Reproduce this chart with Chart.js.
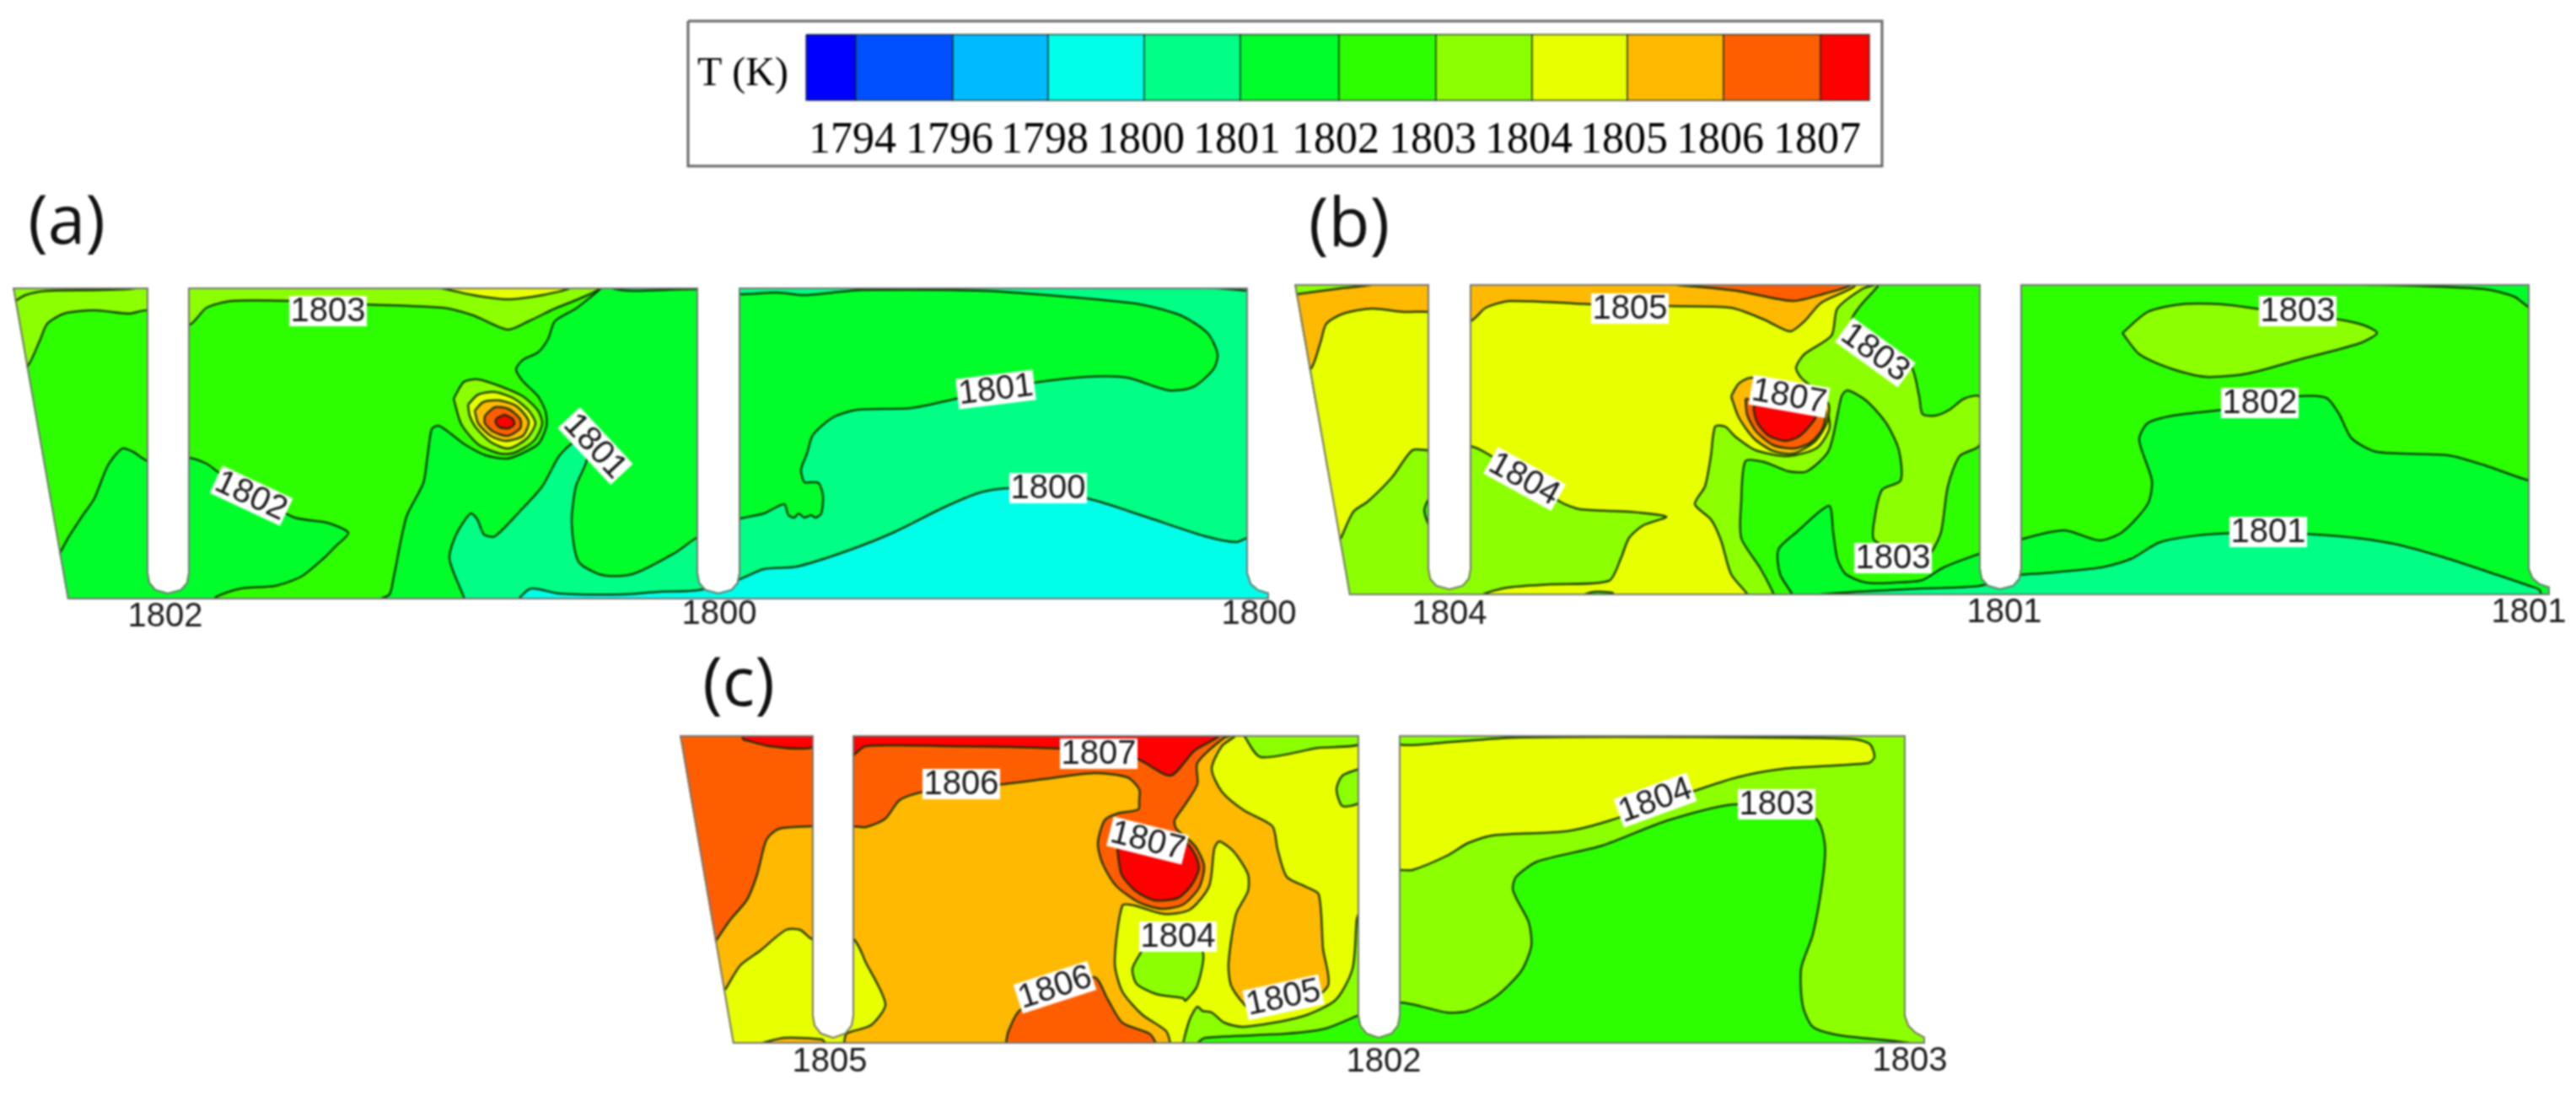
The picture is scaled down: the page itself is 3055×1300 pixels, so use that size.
<!DOCTYPE html>
<html lang="en">
<head>
  <meta charset="UTF-8" />
  <title>T (K) contours</title>
  <script src="https://cdn.jsdelivr.net/npm/chart.js"></script>
  <style>
    html, body { margin: 0; padding: 0; background: white; overflow: hidden; }
    canvas { display: block; filter: blur(0.8px); }
  </style>
</head>
<body>
  <canvas id="contourChart" width="3055" height="1300"></canvas>

  <script>
    // colour bands, index = band number of the legend
    const bandColors = ['#0000ff', '#0050ff', '#00baff', '#00ffe8', '#00ff85', '#00ff2a',
                        '#2eff00', '#8cff00', '#e8ff00', '#ffb900', '#ff5e00', '#ff0000'];
    const colorbarTicks = ['1794', '1796', '1798', '1800', '1801', '1802', '1803', '1804', '1805', '1806', '1807'];
    const colorbarEdges = [956, 1015, 1130, 1243, 1357, 1471, 1588, 1703, 1817, 1930, 2044, 2159, 2217];
    const colorbarTop = 41, colorbarBottom = 119;
    const legendBox = [[816, 25], [2232, 25], [2232, 197], [816, 197], [816, 25]];

    // ---- panel (a) ----
    const aOutline = [[15,341],[176,341],[176,680],[178,691],[185,699],[199,703],[214,699],[221,691],[223,680],[223,341],[828,341],[828,680],[830,691],[837,699],[852,703],[867,699],[874,691],[876,680],[876,341],[1480,341],[1480,680],[1484,692],[1492,699],[1505,703],[1505,711],[80,711],[15,341]];
    const aBase = [[5,330],[1515,330],[1515,720],[5,720],[5,330]];
    const aTopLeft = [[20,440],[33,434],[48,402],[56,384],[76,372],[112,368],[153,372],[176,368],[223,386],[245,365],[275,357],[347,357],[433,361],[525,365],[561,374],[602,391],[627,381],[658,366],[683,356],[714,341],[714,330],[10,330],[10,440],[20,440]];
    const aTopStrip = [[17,358],[30,350],[56,345],[160,342],[160,330],[10,330],[10,358],[17,358]];
    const aTopYellow = [[520,341],[561,350],[602,355],[643,350],[678,341],[678,330],[520,330],[520,341]];
    const aRight = [[714,341],[701,352],[683,366],[658,381],[650,402],[638,418],[620,427],[612,438],[620,452],[638,470],[647,488],[648,506],[638,527],[612,541],[599,544],[576,540],[551,527],[530,511],[520,505],[512,509],[507,541],[502,573],[482,613],[467,684],[462,705],[451,711],[451,720],[1510,720],[1510,330],[714,330],[714,341]];
    const aLowerLeft = [[71,656],[82,636],[97,613],[112,591],[128,552],[145,532],[158,536],[176,547],[223,543],[245,550],[260,561],[347,613],[388,620],[413,632],[398,648],[383,663],[357,684],[326,695],[286,698],[255,709],[255,720],[60,720],[60,656],[71,656]];
    const aBand1801 = [[551,720],[551,711],[533,663],[541,634],[558,609],[566,616],[574,634],[587,636],[617,606],[643,577],[663,541],[680,525],[690,528],[696,545],[683,577],[678,620],[686,666],[714,682],[750,681],[800,656],[826,638],[875,616],[906,609],[930,598],[935,611],[942,614],[947,609],[954,614],[962,611],[967,614],[974,609],[976,588],[971,573],[962,572],[954,572],[950,557],[957,538],[964,516],[988,495],[1017,486],[1081,484],[1134,473],[1182,463],[1226,454],[1289,447],[1337,448],[1386,463],[1415,459],[1439,438],[1444,420],[1432,395],[1400,374],[1352,361],[1265,352],[1168,345],[1022,344],[988,347],[954,350],[921,347],[875,349],[828,343],[750,345],[724,341],[724,330],[1510,330],[1510,720],[551,720]];
    const aBand1800 = [[615,720],[615,711],[630,698],[663,704],[740,705],[780,702],[828,700],[875,688],[906,675],[945,672],[1003,654],[1061,631],[1119,602],[1163,584],[1202,579],[1289,591],[1362,614],[1429,636],[1466,643],[1480,638],[1510,640],[1510,720],[615,720]];
    const aTopRight = [[1410,341],[1445,342],[1480,345],[1490,345],[1490,330],[1410,330],[1410,341]];
    const aHot7 = [[538,473],[550,453],[567,450],[593,458],[620,470],[638,487],[643,503],[633,523],[610,537],[593,538],[567,527],[547,503],[538,473]];
    const aHot8 = [[555,480],[567,468],[587,465],[610,473],[627,487],[635,502],[625,520],[603,532],[583,525],[565,508],[557,493],[555,480]];
    const aHot9 = [[563,487],[573,477],[593,475],[613,482],[627,500],[620,517],[600,523],[582,517],[567,502],[563,487]];
    const aHot10 = [[575,493],[587,483],[603,485],[617,497],[617,508],[602,517],[585,512],[575,502],[575,493]];
    const aHot11 = [[588,497],[598,492],[608,497],[610,503],[603,508],[593,507],[588,502],[588,497]];
    const aRegions = [[6,aBase],[7,aTopLeft],[7,aTopStrip],[8,aTopYellow],[5,aRight],[5,aLowerLeft],[4,aBand1801],[3,aBand1800],[3,aTopRight],[7,aHot7],[8,aHot8],[9,aHot9],[10,aHot10],[11,aHot11]];

    // ---- panel (b) ----
    const bOutline = [[1535,337],[1695,337],[1695,675],[1697,686],[1704,694],[1719,698],[1734,694],[1741,686],[1743,675],[1743,337],[2349,337],[2349,675],[2351,686],[2358,694],[2372,698],[2387,694],[2394,686],[2396,675],[2396,337],[3000,337],[3000,675],[3004,685],[3012,692],[3024,696],[3024,706],[1600,706],[1535,337]];
    const bBase = [[1525,328],[3035,328],[3035,716],[1525,716],[1525,328]];
    const bTopLeft = [[1530,440],[1554,438],[1566,406],[1573,384],[1593,372],[1627,366],[1665,370],[1694,370],[1743,381],[1762,365],[1791,357],[1888,361],[1980,363],[2053,365],[2092,379],[2123,393],[2140,381],[2160,359],[2199,340],[2199,330],[1530,330],[1530,440]];
    const bCorner = [[1530,350],[1590,342],[1630,337],[1630,330],[1530,330],[1530,350]];
    const bTop1806 = [[1988,338],[2060,345],[2126,357],[2165,348],[2196,338],[2196,330],[1988,330],[1988,338]];
    const bLowerLeft = [[1590,639],[1605,607],[1622,595],[1651,566],[1675,534],[1694,534],[1743,529],[1767,540],[1850,595],[1874,604],[1932,607],[1976,613],[1949,623],[1932,638],[1922,663],[1908,689],[1840,693],[1787,697],[1757,706],[1757,715],[1580,715],[1580,640],[1590,639]];
    const bSlotSpot = [[1696,588],[1689,605],[1696,625],[1700,605],[1696,588]];
    const bBottomSpot = [[1874,707],[1890,702],[1912,703],[1914,707],[1874,707]];
    const bBand1804 = [[2223,338],[2208,343],[2179,366],[2172,398],[2140,420],[2130,436],[2136,448],[2160,470],[2170,506],[2155,531],[2121,541],[2082,534],[2058,518],[2046,506],[2034,506],[2029,541],[2022,577],[2010,598],[2029,616],[2041,641],[2053,681],[2073,706],[2073,715],[3030,715],[3030,330],[2223,330],[2223,338]];
    const bBand1803 = [[2228,330],[2228,338],[2206,363],[2196,381],[2225,410],[2266,434],[2276,470],[2280,491],[2295,493],[2312,486],[2329,473],[2347,470],[2352,500],[2347,529],[2324,541],[2310,577],[2302,631],[2290,656],[2280,663],[2223,641],[2223,616],[2232,581],[2254,570],[2252,534],[2237,502],[2213,475],[2191,463],[2184,470],[2169,534],[2143,559],[2121,559],[2092,548],[2070,547],[2065,595],[2065,638],[2087,673],[2104,706],[2104,715],[3030,715],[3030,330],[2228,330]];
    const bBand1802 = [[2126,715],[2126,706],[2111,681],[2109,652],[2131,631],[2169,600],[2174,631],[2179,663],[2189,681],[2213,691],[2247,691],[2280,688],[2305,673],[2347,657],[2396,640],[2448,629],[2490,641],[2517,631],[2547,598],[2552,570],[2537,522],[2547,502],[2577,493],[2636,486],[2725,470],[2759,472],[2774,491],[2789,520],[2819,536],[2903,540],[2947,552],[2999,570],[3030,575],[3030,715],[2126,715]];
    const bIsland = [[2517,395],[2547,370],[2586,361],[2636,361],[2675,366],[2774,379],[2804,386],[2819,395],[2799,407],[2725,427],[2666,443],[2616,447],[2577,438],[2537,420],[2517,395]];
    const bTopRight = [[2678,337],[2824,338],[2947,343],[2982,352],[3000,365],[3010,365],[3010,330],[2678,330],[2678,337]];
    const bBand1801 = [[2148,706],[2199,702],[2280,698],[2347,695],[2396,682],[2423,680],[2492,673],[2527,663],[2562,643],[2616,634],[2690,632],[2774,636],[2839,645],[2898,661],[2962,682],[3000,695],[3012,700],[3012,712],[2148,712],[2148,706]];
    const bHot9 = [[2053,470],[2062,455],[2078,448],[2167,477],[2167,500],[2153,523],[2127,538],[2103,535],[2080,520],[2062,495],[2053,470]];
    const bHot10 = [[2070,473],[2163,483],[2162,507],[2147,525],[2127,532],[2103,528],[2083,512],[2072,492],[2070,473]];
    const bHot11 = [[2080,480],[2153,493],[2148,503],[2133,518],[2117,523],[2098,517],[2085,503],[2080,488],[2080,480]];
    const bRegions = [[8,bBase],[9,bTopLeft],[7,bCorner],[10,bTop1806],[7,bLowerLeft],[6,bSlotSpot],[6,bBottomSpot],[7,bBand1804],[6,bBand1803],[5,bBand1802],[7,bIsland],[5,bTopRight],[4,bBand1801],[9,bHot9],[10,bHot10],[11,bHot11]];

    // ---- panel (c) ----
    const cOutline = [[806,872],[965,872],[965,1205],[967,1216],[974,1225],[988,1230],[1002,1225],[1009,1216],[1011,1205],[1011,872],[1612,872],[1612,1205],[1614,1216],[1621,1225],[1635,1230],[1650,1225],[1657,1216],[1659,1205],[1659,872],[2260,872],[2260,1205],[2264,1216],[2272,1224],[2283,1230],[2283,1238],[869,1238],[806,872]];
    const cBase = [[796,862],[2295,862],[2295,1248],[796,1248],[796,862]];
    const cBand1806 = [[849,1116],[866,1091],[886,1067],[898,1037],[909,996],[924,983],[964,980],[1011,980],[1027,981],[1050,971],[1067,949],[1096,939],[1182,931],[1239,924],[1297,917],[1337,922],[1351,936],[1351,950],[1350,960],[1325,965],[1310,973],[1302,1000],[1307,1023],[1323,1050],[1350,1070],[1377,1078],[1403,1073],[1422,1053],[1428,1027],[1417,1003],[1395,983],[1393,973],[1405,955],[1420,930],[1420,905],[1452,875],[1463,872],[1463,865],[800,865],[800,1116],[849,1116]];
    const cTop1807Left = [[881,877],[912,885],[952,888],[965,885],[965,865],[881,865],[881,877]];
    const cTop1807 = [[1011,897],[1027,885],[1124,885],[1256,888],[1348,900],[1388,920],[1417,890],[1446,873],[1446,865],[1011,865],[1011,897]];
    const cLowerLeft = [[860,1174],[878,1145],[901,1128],[932,1103],[949,1103],[965,1115],[1011,1113],[1027,1142],[1050,1191],[1033,1216],[1004,1226],[1001,1238],[1001,1245],[850,1245],[850,1174],[860,1174]];
    const cBottomOrange = [[901,1238],[930,1231],[975,1233],[978,1238],[901,1238]];
    const cBottom1806 = [[1193,1245],[1193,1238],[1196,1223],[1210,1198],[1297,1159],[1314,1186],[1331,1213],[1363,1226],[1371,1238],[1371,1245],[1193,1245]];
    const cBand1805 = [[1388,1245],[1388,1238],[1383,1223],[1354,1203],[1331,1176],[1322,1142],[1331,1074],[1345,1074],[1380,1084],[1411,1079],[1434,1051],[1440,1007],[1446,998],[1463,1010],[1480,1037],[1480,1057],[1466,1084],[1457,1142],[1460,1169],[1477,1193],[1490,1203],[1540,1195],[1575,1169],[1569,1125],[1564,1061],[1549,1052],[1526,1040],[1515,1007],[1509,980],[1475,961],[1449,939],[1437,912],[1449,885],[1466,872],[1466,865],[2290,865],[2290,1245],[1388,1245]];
    const cIsland = [[1354,1128],[1343,1149],[1348,1167],[1371,1179],[1403,1184],[1406,1187],[1420,1169],[1426,1128],[1390,1120],[1354,1128]];
    const cBand1804 = [[1403,1245],[1403,1238],[1411,1209],[1420,1194],[1426,1199],[1437,1201],[1452,1213],[1475,1218],[1543,1206],[1584,1186],[1604,1149],[1609,1091],[1612,1081],[1620,1040],[1659,1032],[1675,1032],[1716,1015],[1741,1000],[1770,991],[1857,986],[1910,973],[2007,939],[2060,922],[2114,912],[2216,905],[2223,898],[2218,883],[2201,877],[2114,875],[1915,874],[1794,875],[1721,880],[1659,883],[1659,865],[2290,865],[2290,1245],[1403,1245]];
    const cTopGreen = [[1475,872],[1495,898],[1564,887],[1612,883],[1612,865],[1475,865],[1475,872]];
    const cOval = [[1612,912],[1592,920],[1585,936],[1592,956],[1612,952],[1620,930],[1612,912]];
    const cBand1803 = [[1420,1245],[1420,1238],[1429,1231],[1526,1226],[1572,1220],[1612,1204],[1659,1189],[1716,1201],[1741,1199],[1774,1182],[1804,1152],[1816,1122],[1813,1094],[1799,1067],[1794,1054],[1798,1040],[1823,1022],[1900,1003],[1978,973],[2060,954],[2153,971],[2164,1000],[2162,1040],[2150,1108],[2136,1149],[2138,1193],[2150,1218],[2182,1228],[2269,1238],[2269,1245],[1420,1245]];
    const cHot11 = [[1325,1007],[1330,1037],[1347,1057],[1370,1068],[1397,1065],[1413,1050],[1422,1030],[1418,1015],[1407,1000],[1367,985],[1325,1007]];
    const cRegions = [[9,cBase],[10,cBand1806],[11,cTop1807Left],[11,cTop1807],[8,cLowerLeft],[9,cBottomOrange],[10,cBottom1806],[8,cBand1805],[7,cIsland],[7,cBand1804],[7,cTopGreen],[7,cOval],[6,cBand1803],[11,cHot11]];

    // contour labels: text, x, y, rotation in degrees
    const contourLabels = [
      ['1803', 389, 369, 0], ['1802', 298, 588, 25], ['1801', 706, 529, 47], ['1801', 1181, 462, -7], ['1800', 1243, 579, 0],
      ['1805', 1933, 366, 0], ['1804', 1808, 568, 29], ['1807', 2122, 470, 10], ['1803', 2224, 418, 36], ['1803', 2245, 662, 0],
      ['1803', 2725, 369, 0], ['1802', 2680, 478, 0], ['1801', 2690, 631, 0],
      ['1807', 1303, 894, 0], ['1806', 1140, 930, 0], ['1807', 1361, 997, 14], ['1804', 1397, 1111, 0], ['1806', 1251, 1171, -18],
      ['1805', 1522, 1183, -12], ['1804', 1963, 949, -20], ['1803', 2107, 954, 0]
    ];
    // values written under the panels
    const probeLabels = [
      ['1802', 196, 732], ['1800', 853, 729], ['1800', 1493, 729],
      ['1804', 1719, 729], ['1801', 2377, 727], ['1801', 2999, 727],
      ['1805', 984, 1260], ['1802', 1641, 1260], ['1803', 2265, 1259]
    ];
    const panelLetters = [['(a)', 79, 266], ['(b)', 1600, 269], ['(c)', 876, 814]];

    function toPoints(list) {
      return list.map(p => ({ x: p[0], y: p[1] }));
    }

    function regionDataset(region) {
      return {
        data: toPoints(region[1]),
        showLine: true,
        fill: 'shape',
        backgroundColor: bandColors[region[0]],
        borderColor: 'rgba(15, 45, 0, 0.9)',
        borderWidth: 2.5,
        tension: 0.25,
        pointRadius: 0
      };
    }

    function edgeDataset(list, color, width) {
      return {
        data: toPoints(list),
        showLine: true,
        fill: false,
        borderColor: color,
        borderWidth: width,
        tension: 0,
        pointRadius: 0
      };
    }

    function colorbarDatasets() {
      const out = [];
      for (let i = 0; i < bandColors.length; i++) {
        const x0 = colorbarEdges[i], x1 = colorbarEdges[i + 1];
        out.push({
          data: toPoints([[x0, colorbarTop], [x1, colorbarTop], [x1, colorbarBottom], [x0, colorbarBottom], [x0, colorbarTop]]),
          showLine: true,
          fill: 'shape',
          backgroundColor: bandColors[i],
          borderColor: 'rgba(20, 40, 30, 0.8)',
          borderWidth: 1.5,
          tension: 0,
          pointRadius: 0
        });
      }
      return out;
    }

    const datasets = [
      edgeDataset(legendBox, '#666666', 3),
      ...colorbarDatasets(),
      ...aRegions.map(regionDataset),
      ...bRegions.map(regionDataset),
      ...cRegions.map(regionDataset),
      edgeDataset(aOutline, '#777777', 4),
      edgeDataset(bOutline, '#777777', 4),
      edgeDataset(cOutline, '#777777', 4)
    ];
    // chart.js draws lower order last, keep the list in painter order
    datasets.forEach((d, i) => { d.order = -i; });

    // the contour polygons run past the walls, cut them to the three panels
    const domainClip = {
      id: 'domainClip',
      beforeDatasetsDraw(chart) {
        const { ctx, scales: { x, y } } = chart;
        ctx.save();
        ctx.beginPath();
        [aOutline, bOutline, cOutline].forEach(shape => {
          shape.forEach((p, i) => {
            const px = x.getPixelForValue(p[0]), py = y.getPixelForValue(p[1]);
            if (i === 0) ctx.moveTo(px, py); else ctx.lineTo(px, py);
          });
          ctx.closePath();
        });
        ctx.rect(x.getPixelForValue(800), y.getPixelForValue(15), x.getPixelForValue(1450), y.getPixelForValue(195));
        ctx.clip();
      },
      afterDatasetsDraw(chart) {
        chart.ctx.restore();
      }
    };

    const textLayer = {
      id: 'textLayer',
      afterDatasetsDraw(chart) {
        const { ctx, scales: { x, y } } = chart;
        ctx.save();
        ctx.textAlign = 'center';
        ctx.textBaseline = 'middle';

        ctx.fillStyle = '#000000';
        ctx.font = '52px "Liberation Serif"';
        colorbarTicks.forEach((t, i) => {
          ctx.fillText(t, x.getPixelForValue(colorbarEdges[i + 1] - 4), y.getPixelForValue(167));
        });
        ctx.font = '48px "Liberation Serif"';
        ctx.fillText('T (K)', x.getPixelForValue(881), y.getPixelForValue(88));

        ctx.font = '40px "Liberation Sans"';
        probeLabels.forEach(l => {
          ctx.fillStyle = '#1a1a1a';
          ctx.fillText(l[0], x.getPixelForValue(l[1]), y.getPixelForValue(l[2]));
        });

        contourLabels.forEach(l => {
          ctx.save();
          ctx.translate(x.getPixelForValue(l[1]), y.getPixelForValue(l[2]));
          ctx.rotate(l[3] * Math.PI / 180);
          ctx.fillStyle = 'white';
          ctx.fillRect(-46, -18, 92, 36);
          ctx.fillStyle = '#1a1a1a';
          ctx.fillText(l[0], 0, 1);
          ctx.restore();
        });

        ctx.font = '80px "Open Sans"';
        ctx.fillStyle = '#111111';
        panelLetters.forEach(l => {
          ctx.fillText(l[0], x.getPixelForValue(l[1]), y.getPixelForValue(l[2]));
        });
        ctx.restore();
      }
    };

    new Chart(document.getElementById('contourChart'), {
      type: 'scatter',
      data: { datasets },
      options: {
        responsive: false,
        animation: false,
        devicePixelRatio: 1,
        events: [],
        layout: { padding: 0 },
        plugins: { legend: { display: false }, tooltip: { enabled: false }, title: { display: false } },
        scales: {
          x: { type: 'linear', min: 0, max: 3055, display: false },
          y: { type: 'linear', min: 0, max: 1300, reverse: true, display: false }
        }
      },
      plugins: [domainClip, textLayer]
    });
  </script>
</body>
</html>
